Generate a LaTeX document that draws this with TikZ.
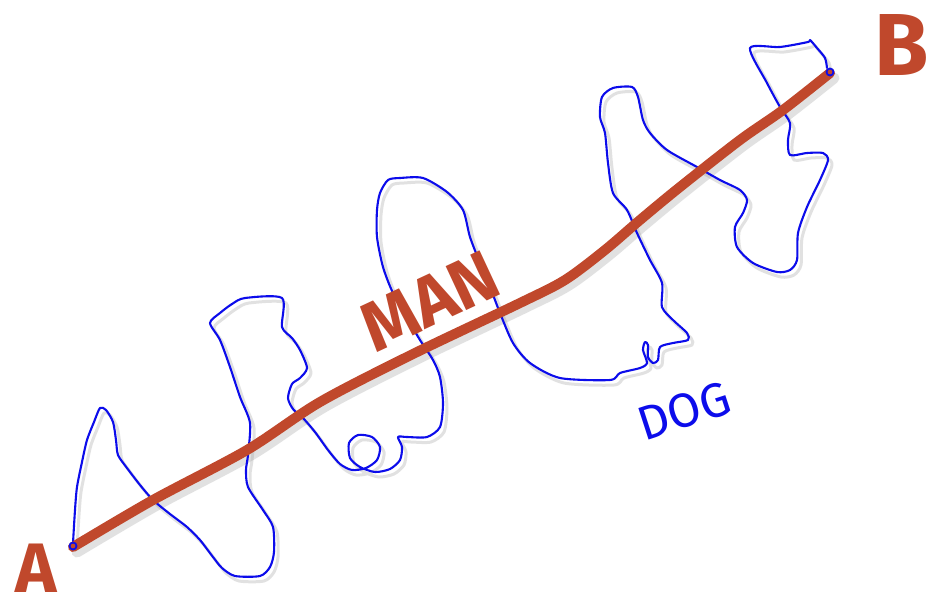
\documentclass[tikz,border=0pt]{standalone}
\usepackage{fontspec}
\setmainfont{Fira Sans}
\definecolor{marker}{RGB}{192,72,44}
\definecolor{pen}{RGB}{12,12,235}
\definecolor{shade}{RGB}{150,150,150}
\tikzset{
  redline/.style={draw=marker, line width=10pt, line cap=round, line join=round},
  blueline/.style={draw=pen, line width=2.1pt, line cap=round, line join=round},
  shadowline/.style={draw=shade, opacity=0.28, line cap=round, line join=round},
  bigletter/.style={text=marker, inner sep=0pt},
  doglabel/.style={text=pen, font=\fontsize{48}{48}\selectfont, inner sep=0pt},
}
\def\dogpath{(73,543) (75,510) (77,487) (82,462) (87,440) (94,422) (100,408) (106,410) (113,422) (116,440) (118,455) (127,468) (140,485) (153,500) (170,514) (187,527) (200,540) (213,557) (222,568) (235,576) (260,576) (270,567) (274,552) (273,527) (263,510) (248,487) (246,470) (248,455) (250,423) (240,397) (230,367) (220,340) (210,323) (220,313) (232,304) (245,298) (282,298) (282,327) (292,338) (300,350) (307,368) (300,378) (292,384) (288,398) (293,409) (303,418) (315,432) (328,450) (340,464) (352,470) (366,468) (377,460) (380,447) (372,437) (358,435) (349,443) (350,458) (360,467) (375,472) (390,469) (400,460) (402,447) (398,437) (407,437) (427,437) (440,427) (443,403) (440,377) (433,360) (420,340) (410,323) (393,293) (383,267) (377,237) (377,210) (380,193) (388,180) (400,178) (423,178) (447,192) (463,210) (470,237) (480,263) (490,287) (500,313) (513,343) (530,363) (560,378) (610,380) (620,373) (640,368) (647,363) (643,350) (645,342) (648,345) (648,357) (653,363) (658,360) (660,347) (673,343) (688,340) (687,333) (673,320) (662,307) (662,283) (650,260) (637,233) (627,210) (613,193) (608,163) (605,133) (600,117) (602,97) (613,88) (632,87) (638,97) (643,120) (650,133) (667,150) (697,167) (720,180) (740,190) (747,200) (743,213) (735,227) (737,247) (753,263) (777,272) (790,270) (797,260) (798,233) (807,207) (820,180) (828,160) (823,153) (807,153) (790,155) (788,140) (790,123) (780,107) (767,83) (750,48) (780,47) (808,42) (810,40) (817,48) (825,58) (827,68)}
\def\manpath{(73,547) (153,500) (247,450) (320,402) (413,354) (520,303) (565,280) (605,250) (640,220) (680,187) (740,140) (783,110) (830,73)}
\begin{document}
\begin{tikzpicture}[x=1pt, y=-1pt]
  \useasboundingbox (0,0) rectangle (930,611);
  \fill[white] (0,0) rectangle (930,611);
  % shadows
  \begin{scope}[shift={(4,5)}]
    \draw[shadowline, line width=11pt] plot[smooth, tension=0.5] coordinates {\manpath};
    \draw[shadowline, line width=3pt] plot[smooth, tension=0.45] coordinates {\dogpath};
  \end{scope}
  % dog's wandering path
  \draw[blueline] plot[smooth, tension=0.45] coordinates {\dogpath};
  % man's path
  \draw[redline] plot[smooth, tension=0.5] coordinates {\manpath};
  % end points
  \coordinate (pa) at (73,546);
  \coordinate (pb) at (830,72);
  \draw[pen, line width=1.8pt] (pa) circle (3.5pt);
  \draw[pen, line width=1.8pt] (pb) circle (3.5pt);
  % labels
  \node[bigletter, font=\fontsize{70}{70}\selectfont\bfseries] (A) at (36,568) {A};
  \node[bigletter, font=\fontsize{88}{88}\selectfont\bfseries] (B) at (902,45) {B};
  \node[bigletter, font=\fontsize{70}{70}\selectfont\bfseries, rotate=25] (MAN) at (430,301) {MAN};
  \node[doglabel, rotate=18] (DOG) at (684,411) {DOG};
\end{tikzpicture}
\end{document}
